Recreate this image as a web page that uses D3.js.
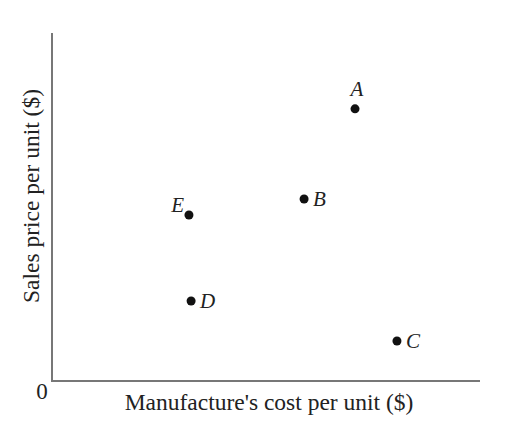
<!DOCTYPE html>
<html><head><meta charset="utf-8">
<script src="https://cdn.jsdelivr.net/npm/d3@7"></script>
<style>body{margin:0;background:#fff}</style>
</head><body>
<script>
const names = ["A","B","C","D","E"];
const costs = [7.08, 5.89, 8.06, 3.25, 3.20];
const prices = [7.82, 5.23, 1.15, 2.30, 4.77];
const labelPos = ["top","right","right","right","topleft"];
const xTitle = "Manufacture's cost per unit ($)";
const yTitle = "Sales price per unit ($)";
const originLabel = "0";

const W=524,H=435;
const svg=d3.select("body").append("svg").attr("width",W).attr("height",H);
const x=d3.scaleLinear().domain([0,10]).range([52,480]);
const y=d3.scaleLinear().domain([0,10]).range([381,33]);
const font="'Liberation Serif','Times New Roman',serif";

svg.append("line").attr("x1",x(0)).attr("x2",x(0)).attr("y1",y(0)+1).attr("y2",y(10))
 .attr("stroke","#777").attr("stroke-width",2);
svg.append("line").attr("x1",x(0)-1).attr("x2",x(10)).attr("y1",y(0)).attr("y2",y(0))
 .attr("stroke","#777").attr("stroke-width",2);

svg.append("text").attr("x",42).attr("y",399).attr("text-anchor","middle")
 .attr("font-family",font).attr("font-size",23).attr("fill","#222").text(originLabel);
svg.append("text").attr("x",269).attr("y",410).attr("text-anchor","middle")
 .attr("font-family",font).attr("font-size",23.5).attr("fill","#222").text(xTitle);
svg.append("text").attr("transform",`translate(39,196) rotate(-90)`).attr("text-anchor","middle")
 .attr("font-family",font).attr("font-size",23.5).attr("fill","#222").text(yTitle);

const data=names.map((n,i)=>({n,c:costs[i],p:prices[i],pos:labelPos[i]}));
svg.selectAll("circle").data(data).join("circle")
 .attr("cx",d=>x(d.c)).attr("cy",d=>y(d.p)).attr("r",4.5).attr("fill","#111");
svg.selectAll("text.lab").data(data).join("text").attr("class","lab")
 .attr("font-family",font).attr("font-style","italic").attr("font-size",21).attr("fill","#222")
 .attr("x",d=>d.pos==="top"?x(d.c)+2:d.pos==="right"?x(d.c)+9:x(d.c)-5)
 .attr("y",d=>d.pos==="top"?y(d.p)-13:d.pos==="right"?y(d.p)+7:y(d.p)-3)
 .attr("text-anchor",d=>d.pos==="top"?"middle":d.pos==="right"?"start":"end")
 .text(d=>d.n);
</script>
</body></html>
